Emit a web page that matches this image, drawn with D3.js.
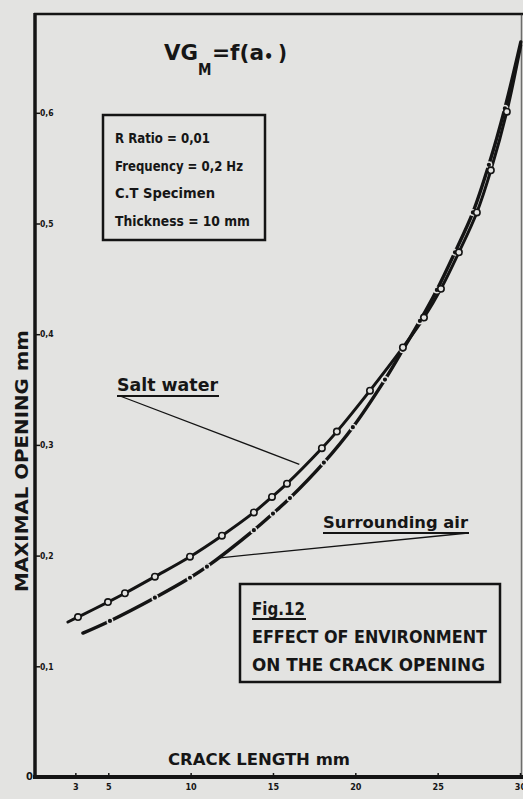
<!DOCTYPE html>
<html>
<head>
<meta charset="utf-8">
<script src="https://cdn.jsdelivr.net/npm/d3@7"></script>
<style>
  html, body { margin: 0; padding: 0; background: #e3e3e1; }
  svg { display: block; }
  text { font-family: "DejaVu Sans Condensed", "DejaVu Sans", sans-serif; fill: #161616; font-weight: bold; }
</style>
</head>
<body>
<svg id="chart" width="523" height="799"></svg>
<script>
// Crack length (mm) and maximal opening (mm), salt water specimen
const saltLength  = [2.55, 3.16, 4.98, 6.01, 7.83, 9.96, 11.90, 13.84, 14.94, 15.85, 17.97, 18.88, 20.89, 22.89, 24.17, 25.20, 26.29, 27.38, 28.23, 29.20, 30.05];
const saltOpening = [0.140, 0.1445, 0.158, 0.166, 0.181, 0.199, 0.218, 0.239, 0.253, 0.265, 0.297, 0.312, 0.349, 0.388, 0.415, 0.441, 0.474, 0.510, 0.548, 0.601, 0.661];

// Crack length (mm) and maximal opening (mm), surrounding air specimen
const airLength  = [3.46, 5.10, 7.83, 9.96, 10.99, 13.84, 15.00, 16.03, 18.09, 19.85, 21.80, 22.89, 23.92, 24.95, 26.05, 27.14, 28.11, 29.08, 30.05];
const airOpening = [0.130, 0.141, 0.162, 0.180, 0.190, 0.223, 0.238, 0.252, 0.284, 0.316, 0.359, 0.386, 0.412, 0.440, 0.474, 0.510, 0.553, 0.604, 0.664];

const xTicks = [3, 5, 10, 15, 20, 25, 30];
const yTicks = [0.1, 0.2, 0.3, 0.4, 0.5, 0.6];

const infoLines = ["R Ratio = 0,01", "Frequency = 0,2 Hz", "C.T Specimen", "Thickness = 10 mm"];
const figLines = ["EFFECT OF ENVIRONMENT", "ON THE CRACK OPENING"];

const BG = "#e3e3e1";
const INK = "#141414";

const svg = d3.select("#chart");
svg.append("rect").attr("width", 523).attr("height", 799).attr("fill", BG);

const x = d3.scaleLinear().domain([0.55, 30]).range([35, 520]);
const y = d3.scaleLinear().domain([0, 0.6]).range([777, 112.8]);

// Frame: left axis, top edge, right edge, bottom axis
svg.append("line").attr("x1", 34).attr("x2", 523).attr("y1", 14).attr("y2", 14)
  .attr("stroke", INK).attr("stroke-width", 2.5);
svg.append("line").attr("x1", 521.5).attr("x2", 521.5).attr("y1", 14).attr("y2", 777)
  .attr("stroke", "#3a3a3a").attr("stroke-width", 1.5).attr("opacity", 0.7);
svg.append("line").attr("x1", 35).attr("x2", 35).attr("y1", 13).attr("y2", 779)
  .attr("stroke", INK).attr("stroke-width", 3.5);
svg.append("line").attr("x1", 33).attr("x2", 523).attr("y1", y(0)).attr("y2", y(0))
  .attr("stroke", INK).attr("stroke-width", 4);

// X axis ticks
const xAxis = d3.axisBottom(x).tickValues(xTicks).tickSize(4).tickSizeOuter(0)
  .tickFormat(d3.format("d"));
const gx = svg.append("g").attr("transform", `translate(0,${y(0) - 2})`).call(xAxis);
gx.select(".domain").remove();
gx.selectAll(".tick line").attr("stroke", INK).attr("stroke-width", 1.5).attr("y1", -2).attr("y2", 4);
gx.selectAll(".tick text").attr("y", 9).attr("font-size", 9).attr("fill", INK)
  .style("font-family", "'DejaVu Sans Condensed', 'DejaVu Sans', sans-serif").style("font-weight", "bold");

// Y axis ticks
const yAxis = d3.axisRight(y).tickValues(yTicks).tickSize(5).tickSizeOuter(0)
  .tickFormat(d => d3.format(".1f")(d).replace(".", ","));
const gy = svg.append("g").attr("transform", "translate(35,0)").call(yAxis);
gy.select(".domain").remove();
gy.selectAll(".tick line").attr("stroke", INK).attr("stroke-width", 1.5);
gy.selectAll(".tick text").attr("x", 5).attr("font-size", 8.5).attr("fill", INK)
  .style("font-family", "'DejaVu Sans Condensed', 'DejaVu Sans', sans-serif").style("font-weight", "bold");
svg.append("text").attr("x", 33).attr("y", y(0) + 3).attr("text-anchor", "end")
  .attr("font-size", 11).text("0");

// Axis titles
svg.append("text").attr("x", 168).attr("y", 765).attr("font-size", 16)
  .attr("textLength", 182).attr("lengthAdjust", "spacingAndGlyphs").text("CRACK LENGTH mm");
svg.append("text").attr("transform", "translate(28,592) rotate(-90)").attr("font-size", 17)
  .attr("textLength", 262).attr("lengthAdjust", "spacingAndGlyphs").text("MAXIMAL OPENING mm");

// Formula title
svg.append("text").attr("x", 164).attr("y", 60).attr("font-size", 22)
  .attr("textLength", 34).attr("lengthAdjust", "spacingAndGlyphs").text("VG");
svg.append("text").attr("x", 198).attr("y", 75).attr("font-size", 15).text("M");
svg.append("text").attr("x", 212).attr("y", 60).attr("font-size", 22)
  .attr("textLength", 52).attr("lengthAdjust", "spacingAndGlyphs").text("=f(a");
svg.append("text").attr("x", 264).attr("y", 62).attr("font-size", 16).text("•");
svg.append("text").attr("x", 278).attr("y", 60).attr("font-size", 22).text(")");

// Test conditions box
svg.append("rect").attr("x", 103).attr("y", 115).attr("width", 162).attr("height", 125)
  .attr("fill", "none").attr("stroke", INK).attr("stroke-width", 2.5);
const infoWidths = [95, 128, 100, 135];
infoLines.forEach((t, i) => {
  svg.append("text").attr("x", 115).attr("y", 143 + i * 27.5).attr("font-size", 13.5)
    .attr("textLength", infoWidths[i]).attr("lengthAdjust", "spacingAndGlyphs").text(t);
});

// Figure caption box
svg.append("rect").attr("x", 240).attr("y", 584).attr("width", 260).attr("height", 98)
  .attr("fill", "none").attr("stroke", INK).attr("stroke-width", 2.5);
svg.append("text").attr("x", 252).attr("y", 615).attr("font-size", 17)
  .attr("textLength", 53).attr("lengthAdjust", "spacingAndGlyphs").text("Fig.12");
svg.append("line").attr("x1", 252).attr("x2", 306).attr("y1", 619).attr("y2", 619)
  .attr("stroke", INK).attr("stroke-width", 1.8);
const figWidths = [235, 233];
figLines.forEach((t, i) => {
  svg.append("text").attr("x", 252).attr("y", 643 + i * 28).attr("font-size", 17)
    .attr("textLength", figWidths[i]).attr("lengthAdjust", "spacingAndGlyphs").text(t);
});

// Curves
const line = d3.line().x(d => x(d[0])).y(d => y(d[1])).curve(d3.curveCatmullRom.alpha(0.5));
const salt = saltLength.map((v, i) => [v, saltOpening[i]]);
const air = airLength.map((v, i) => [v, airOpening[i]]);

svg.append("path").datum(air).attr("d", line).attr("fill", "none")
  .attr("stroke", INK).attr("stroke-width", 3.4).attr("stroke-linecap", "round");
svg.append("path").datum(salt).attr("d", line).attr("fill", "none")
  .attr("stroke", INK).attr("stroke-width", 3).attr("stroke-linecap", "round");

// Measured points: filled dots in air, open circles in salt water
svg.append("g").selectAll("circle").data(air.slice(1, -1)).join("circle")
  .attr("cx", d => x(d[0])).attr("cy", d => y(d[1])).attr("r", 2.8)
  .attr("fill", INK).attr("stroke", BG).attr("stroke-width", 1.4);
svg.append("g").selectAll("circle").data(salt.slice(1, -1)).join("circle")
  .attr("cx", d => x(d[0])).attr("cy", d => y(d[1])).attr("r", 3.2)
  .attr("fill", BG).attr("stroke", INK).attr("stroke-width", 1.6);

// Series labels with leader lines
svg.append("text").attr("x", 117).attr("y", 391).attr("font-size", 17)
  .attr("textLength", 101).attr("lengthAdjust", "spacingAndGlyphs").text("Salt water");
svg.append("line").attr("x1", 117).attr("x2", 219).attr("y1", 396).attr("y2", 396)
  .attr("stroke", INK).attr("stroke-width", 2);
svg.append("line").attr("x1", 120).attr("y1", 396).attr("x2", x(16.6)).attr("y2", y(0.2825))
  .attr("stroke", INK).attr("stroke-width", 1.3);

svg.append("text").attr("x", 323).attr("y", 528).attr("font-size", 16)
  .attr("textLength", 145).attr("lengthAdjust", "spacingAndGlyphs").text("Surrounding air");
svg.append("line").attr("x1", 323).attr("x2", 469).attr("y1", 533).attr("y2", 533)
  .attr("stroke", INK).attr("stroke-width", 2);
svg.append("line").attr("x1", 468).attr("y1", 533).attr("x2", x(11.78)).attr("y2", y(0.198))
  .attr("stroke", INK).attr("stroke-width", 1.3);
</script>
</body>
</html>
